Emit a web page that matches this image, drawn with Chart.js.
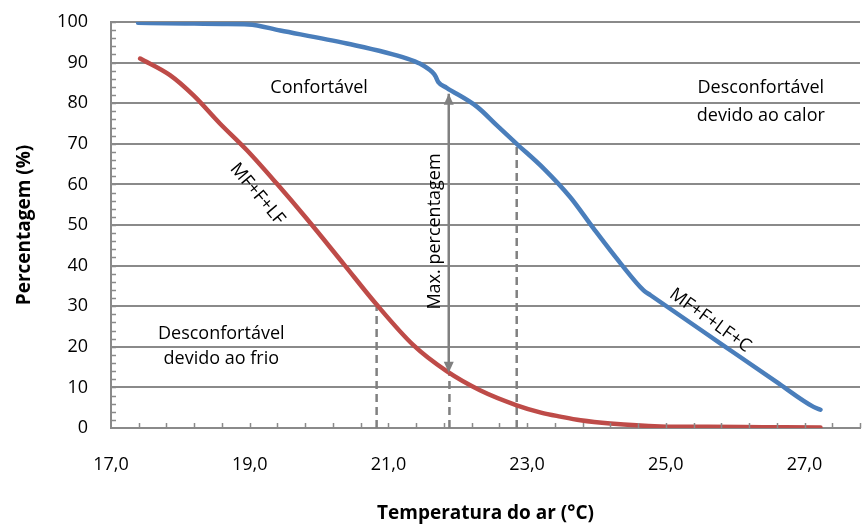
<!DOCTYPE html>
<html><head><meta charset="utf-8">
<script src="https://cdn.jsdelivr.net/npm/chart.js@4.4.0/dist/chart.umd.min.js"></script>
<style>html,body{margin:0;padding:0;background:#fff}#wrap{width:865px;height:527px}</style>
</head><body><div id="wrap"><canvas id="c" width="865" height="527"></canvas></div>
<script>
// ---- data ----
const redX = [17.42, 17.85, 18.19, 18.57, 18.96, 19.39, 19.82, 20.35, 20.83, 21.36, 21.84, 22.32, 22.85, 23.2, 23.48, 23.77, 24.2, 24.92, 25.6, 26.4, 27.23];
const redY = [91.0, 86.9, 81.9, 75.0, 68.4, 60.2, 51.6, 40.5, 30.4, 20.4, 14.0, 9.3, 5.6, 3.8, 2.8, 1.9, 1.1, 0.4, 0.3, 0.2, 0.1];
const blueX = [17.39, 17.8, 18.2, 18.6, 18.98, 19.44, 20.4, 21.27, 21.46, 21.63, 21.68, 21.72, 21.84, 22.28, 22.56, 22.85, 23.24, 23.62, 23.96, 24.35, 24.68, 24.78, 25.79, 26.6, 27.13, 27.23];
const blueY = [99.8, 99.7, 99.6, 99.5, 99.4, 97.9, 94.7, 91.0, 89.7, 87.7, 86.6, 85.2, 83.8, 79.1, 74.6, 70.0, 63.9, 56.9, 49.1, 40.5, 33.9, 32.7, 20.8, 11.3, 5.2, 4.5];
const xTicks = [17, 19, 21, 23, 25, 27];
const dashX = [20.83, 21.88, 22.85];
const dashTop = [30.4, 13.6, 70.0];
const arrowX = 21.87, arrowTop = 82.3, arrowBottom = 13.6;
const notes = [
  {text: 'Confortável', x: 20.0, y: 83.7, rot: 0},
  {text: 'Desconfortável', x: 26.37, y: 83.7, rot: 0},
  {text: 'devido ao calor', x: 26.37, y: 77.0, rot: 0},
  {text: 'Desconfortável', x: 18.59, y: 23.3, rot: 0},
  {text: 'devido ao frio', x: 18.59, y: 17.0, rot: 0},
  {text: 'Max. percentagem', x: 21.67, y: 48.4, rot: -90},
  {text: 'MF+F+LF', x: 19.11, y: 57.6, rot: 50},
  {text: 'MF+F+LF+C', x: 25.64, y: 26.5, rot: 36}
];

const FONT = "'Open Sans', sans-serif";
const GREY = '#8a8a8a';
const pts = (xs, ys) => xs.map((x, i) => ({x, y: ys[i]}));

const helperDatasets = dashX.map((x, i) => ({
  data: [{x, y: 0}, {x, y: dashTop[i]}],
  borderColor: '#808080', borderWidth: 2.5, borderDash: [8, 5],
  pointRadius: 0, showLine: true, order: 2
}));
helperDatasets.push({
  data: [{x: arrowX, y: arrowBottom}, {x: arrowX, y: arrowTop}],
  borderColor: '#808080', borderWidth: 2.5, pointRadius: 0, showLine: true, order: 2
});

const annot = {
  id: 'annot',
  afterDatasetsDraw(chart) {
    const {ctx, scales: {x, y}, chartArea: ca} = chart;
    ctx.save();
    // inside minor ticks
    ctx.strokeStyle = GREY; ctx.lineWidth = 1.5;
    for (let k = 1; k <= 27; k++) {
      const px = Math.round(x.getPixelForValue(17 + k * 0.4)) + 0.5;
      ctx.beginPath(); ctx.moveTo(px, ca.bottom); ctx.lineTo(px, ca.bottom - 5); ctx.stroke();
    }
    for (let v = 2; v <= 100; v += 2) {
      const py = Math.round(y.getPixelForValue(v)) + 0.5;
      ctx.beginPath(); ctx.moveTo(ca.left, py); ctx.lineTo(ca.left + 5, py); ctx.stroke();
    }
    // arrow heads
    ctx.fillStyle = '#808080';
    const ax = x.getPixelForValue(arrowX);
    const ty = y.getPixelForValue(arrowTop), by = y.getPixelForValue(arrowBottom);
    ctx.beginPath(); ctx.moveTo(ax, ty); ctx.lineTo(ax - 5, ty + 11); ctx.lineTo(ax + 5, ty + 11); ctx.closePath(); ctx.fill();
    ctx.beginPath(); ctx.moveTo(ax, by); ctx.lineTo(ax - 5, by - 11); ctx.lineTo(ax + 5, by - 11); ctx.closePath(); ctx.fill();
    // text notes
    ctx.fillStyle = '#000';
    ctx.font = "18px " + FONT;
    ctx.textAlign = 'center'; ctx.textBaseline = 'middle';
    notes.forEach(n => {
      ctx.save();
      ctx.translate(x.getPixelForValue(n.x), y.getPixelForValue(n.y));
      ctx.rotate(n.rot * Math.PI / 180);
      ctx.fillText(n.text, 0, 0);
      ctx.restore();
    });
    ctx.restore();
  }
};

new Chart(document.getElementById('c'), {
  type: 'scatter',
  data: {
    datasets: [
      {label: 'MF+F+LF', data: pts(redX, redY), borderColor: '#BE4B48', borderWidth: 4.5,
       showLine: true, pointRadius: 0, cubicInterpolationMode: 'monotone', borderCapStyle: 'round', order: 0},
      {label: 'MF+F+LF+C', data: pts(blueX, blueY), borderColor: '#4A7EBB', borderWidth: 4.5,
       showLine: true, pointRadius: 0, cubicInterpolationMode: 'monotone', borderCapStyle: 'round', order: 0},
      ...helperDatasets
    ]
  },
  options: {
    responsive: false, animation: false, devicePixelRatio: 1,
    layout: {padding: {left: 0, right: 5, top: 22, bottom: 0}},
    plugins: {legend: {display: false}, tooltip: {enabled: false}},
    scales: {
      x: {
        type: 'linear', min: 17, max: 27.8,
        afterBuildTicks: s => { s.ticks = xTicks.map(v => ({value: v})); },
        afterFit: s => { s.height = 99; },
        grid: {drawOnChartArea: false, drawTicks: true, tickLength: 23, tickColor: 'rgba(0,0,0,0)'},
        border: {display: true, color: GREY, width: 2},
        ticks: {padding: 3, color: '#000', font: {family: FONT, size: 18},
                callback: v => v.toFixed(1).replace('.', ',')},
        title: {display: true, text: 'Temperatura do ar (°C)', color: '#000',
                font: {family: FONT, size: 19, weight: 'bold'}, padding: {top: 0, bottom: 2}}
      },
      y: {
        min: 0, max: 100,
        afterFit: s => { s.width = 111; },
        grid: {color: GREY, lineWidth: 2, drawTicks: true, tickLength: 20, tickColor: 'rgba(0,0,0,0)'},
        border: {display: true, color: GREY, width: 2},
        ticks: {stepSize: 10, padding: 3, color: '#000', font: {family: FONT, size: 18}},
        title: {display: true, text: 'Percentagem (%)', color: '#000',
                font: {family: FONT, size: 19, weight: 'bold'}, padding: {top: 13, bottom: 0}}
      }
    }
  },
  plugins: [annot]
});
</script>
</body></html>
